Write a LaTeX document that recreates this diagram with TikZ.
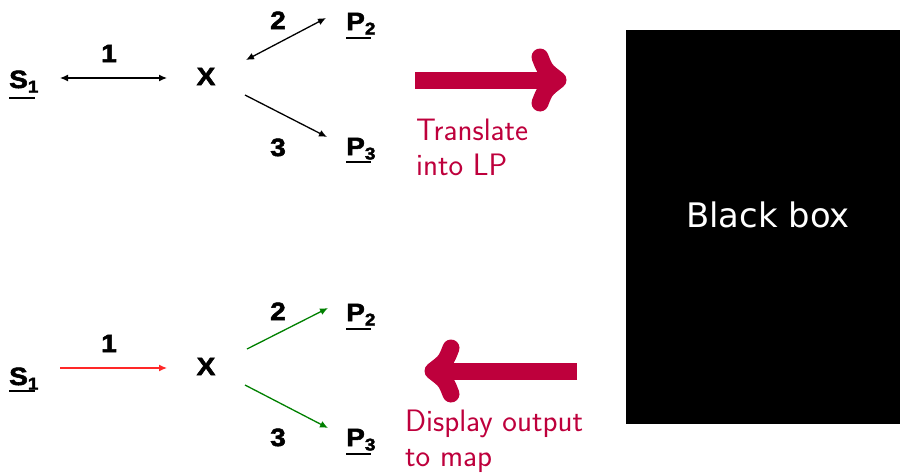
\documentclass[tikz,border=0pt]{standalone}
\usepackage{fontspec}
\setmainfont{Liberation Sans}
\newfontfamily\boxfont{DejaVu Sans}
\newfontfamily\heavyfont[BoldFeatures={FakeBold=2.2, FakeStretch=1.12}]{Liberation Sans}
\usetikzlibrary{arrows.meta}
\definecolor{crimson}{RGB}{190,0,60}
\definecolor{leafgreen}{RGB}{0,128,0}
\definecolor{softred}{RGB}{255,40,40}
\tikzset{
  lbl/.style={inner sep=0pt, anchor=base, font=\heavyfont\fontsize{25}{25}\selectfont\bfseries},
  sym/.style={inner sep=0pt, anchor=base west, font=\heavyfont\fontsize{25}{25}\selectfont\bfseries},
  uline/.style={line width=1.5pt},
  link/.style={line width=1.3pt},
  bigarrow/.style={line width=17pt, crimson},
  barb/.style={line width=17pt, crimson, line cap=round, line join=round},
  note/.style={inner sep=0pt, anchor=base west, text=crimson,
    font=\sffamily\fontsize{31}{31}\selectfont},
}
\newcommand{\sub}[1]{\raisebox{-4.5pt}{\fontsize{17}{17}\selectfont #1}}
\begin{document}
\begin{tikzpicture}[x=1pt, y=-1pt, >={Latex[length=8pt,width=7pt]}]
\useasboundingbox (0,0) rectangle (900,472);

% ---- top network: bidirectional links ----
\node[sym] (s1a) at (9,88) {S\sub{1}};
\node[lbl] (xa) at (206,85) {X};
\node[sym] (p2a) at (346,30) {P\sub{2}};
\node[sym] (p3a) at (346,155) {P\sub{3}};
\node[lbl] (n1a) at (109,62) {1};
\node[lbl] (n2a) at (278,29) {2};
\node[lbl] (n3a) at (278,156) {3};
\coordinate (s1aE) at (60,78);  \coordinate (xaW) at (167,78);
\coordinate (xaNE) at (246,60); \coordinate (p2aW) at (326,18);
\coordinate (xaSE) at (245,95); \coordinate (p3aW) at (327,137);
\draw[uline] (s1a.base west |- 0,98) -- (35,98);
\draw[uline] (p2a.base west |- 0,38) -- (371,38);
\draw[uline] (p3a.base west |- 0,162) -- (371,162);
\draw[link, <->] (s1aE) -- (xaW);
\draw[link, <->] (xaNE) -- (p2aW);
\draw[link, ->] (xaSE) -- (p3aW);

% ---- bottom network: solved flows ----
\node[sym] (s1b) at (9,385) {S\sub{1}};
\node[lbl] (xb) at (206,375) {X};
\node[sym] (p2b) at (346,321) {P\sub{2}};
\node[sym] (p3b) at (346,446) {P\sub{3}};
\node[lbl] (n1b) at (109,352) {1};
\node[lbl] (n2b) at (278,320) {2};
\node[lbl] (n3b) at (278,446) {3};
\coordinate (s1bE) at (60,368);  \coordinate (xbW) at (167,368);
\coordinate (xbNE) at (247,349); \coordinate (p2bW) at (328,308);
\coordinate (xbSE) at (245,385); \coordinate (p3bW) at (328,428);
\draw[uline] (s1b.base west |- 0,391) -- (35,391);
\draw[uline] (p2b.base west |- 0,329) -- (371,329);
\draw[uline] (p3b.base west |- 0,454) -- (371,454);
\draw[link, softred, ->] (s1bE) -- (xbW);
\draw[link, leafgreen, ->] (xbNE) -- (p2bW);
\draw[link, leafgreen, ->] (xbSE) -- (p3bW);

% ---- black box ----
\node[fill=black, minimum width=274pt, minimum height=394pt, inner sep=0pt]
  (bb) at (763,227) {};
\node[text=white, inner sep=0pt, anchor=base, font=\boxfont\fontsize{33.8}{33.8}\selectfont]
  (bbl) at (768,227) {Black box};

% ---- translate arrow ----
\coordinate (ta0) at (415,80);
\coordinate (ta1) at (553,80);
\coordinate (taT) at (558,80);
\draw[bigarrow] (ta0) -- (ta1);
\draw[barb] (540,57) .. controls (545,70) .. (taT) .. controls (545,90) .. (540,103);
\node[note] (tr1) at (416,140) {Translate};
\node[note] (tr2) at (416,175) {into LP};

% ---- display arrow ----
\coordinate (da0) at (577,371);
\coordinate (da1) at (438,371);
\coordinate (daT) at (433,371);
\draw[bigarrow] (da0) -- (da1);
\draw[barb] (451,348) .. controls (446,361) .. (daT) .. controls (446,381) .. (451,394);
\node[note] (dp1) at (405,431) {Display output};
\node[note] (dp2) at (405,466) {to map};
\end{tikzpicture}
\end{document}
